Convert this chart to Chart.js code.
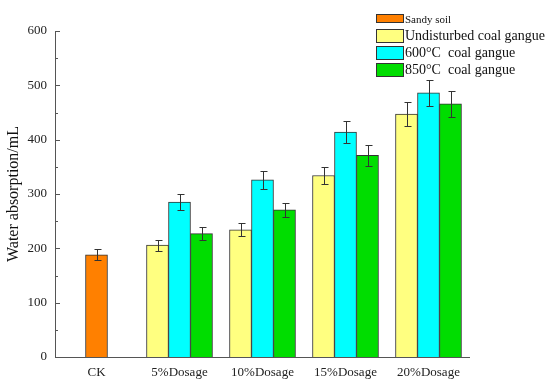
<!DOCTYPE html>
<html>
<head>
<meta charset="utf-8">
<script src="https://cdn.jsdelivr.net/npm/chart.js@4"></script>
<style>
  html, body { margin: 0; padding: 0; background: #fff; }
  #wrap { position: relative; width: 550px; height: 386px; }
  #legend { position: absolute; left: 376px; top: 10px; font-family: "Liberation Serif", serif; color: #111; }
  .row { display: flex; align-items: center; height: 17px; }
  .box { width: 26px; height: 12px; border: 1px solid #333; margin-right: 1px; }
  .row span { font-size: 14px; white-space: pre; }
  .row.small .box { height: 7px; }
  .row.small span { font-size: 11px; }
</style>
</head>
<body>
<div id="wrap">
  <canvas id="chart" width="550" height="386"></canvas>
  <div id="legend"></div>
</div>
<script>
// data
const categories = ['CK', '5%Dosage', '10%Dosage', '15%Dosage', '20%Dosage'];
const sandySoil = [188, null, null, null, null];
const sandySoilErr = [10, null, null, null, null];
const undisturbed = [null, 206, 234, 334, 447];
const undisturbedErr = [null, 10, 12, 16, 22];
const gangue600 = [null, 285, 326, 414, 486];
const gangue600Err = [null, 15, 17, 21, 24];
const gangue850 = [null, 227, 271, 371, 466];
const gangue850Err = [null, 12, 13, 19, 24];
const yTicks = [0, 100, 200, 300, 400, 500, 600];

const seriesNames = ['Sandy soil', 'Undisturbed coal gangue', '600°C  coal gangue', '850°C  coal gangue'];
const seriesColors = ['#FF8000', '#FFFF80', '#00FFFF', '#00DD00'];
const seriesData = [sandySoil, undisturbed, gangue600, gangue850];
const seriesErr = [sandySoilErr, undisturbedErr, gangue600Err, gangue850Err];

const serif = '"Liberation Serif", "Times New Roman", serif';

// error bars drawn on top of each bar
const errorBars = {
    id: 'errorBars',
    afterDatasetsDraw(chart) {
        const ctx = chart.ctx;
        const y = chart.scales.y;
        ctx.save();
        ctx.strokeStyle = '#333';
        ctx.lineWidth = 1;
        chart.data.datasets.forEach((ds, i) => {
            const meta = chart.getDatasetMeta(i);
            meta.data.forEach((bar, j) => {
                const v = ds.data[j], e = seriesErr[i][j];
                if (v == null || e == null) return;
                const x = Math.round(bar.x) + 0.5;
                const top = Math.round(y.getPixelForValue(v + e)) + 0.5;
                const bot = Math.round(y.getPixelForValue(v - e)) + 0.5;
                ctx.beginPath();
                ctx.moveTo(x, top); ctx.lineTo(x, bot);
                ctx.moveTo(x - 3, top); ctx.lineTo(x + 4, top);
                ctx.moveTo(x - 3, bot); ctx.lineTo(x + 4, bot);
                ctx.stroke();
            });
        });
        ctx.restore();
    }
};

// axis lines and inward ticks
const axisLines = {
    id: 'axisLines',
    afterDraw(chart) {
        const ctx = chart.ctx;
        const { left, right, top, bottom } = chart.chartArea;
        const y = chart.scales.y;
        ctx.save();
        ctx.strokeStyle = '#555';
        ctx.lineWidth = 1;
        ctx.beginPath();
        ctx.moveTo(left + 0.5, top);
        ctx.lineTo(left + 0.5, bottom + 0.5);
        ctx.lineTo(right, bottom + 0.5);
        yTicks.forEach((t, k) => {
            const py = Math.round(y.getPixelForValue(t)) + 0.5;
            ctx.moveTo(left, py); ctx.lineTo(left + 5, py);
            if (k < yTicks.length - 1) {
                const my = Math.round(y.getPixelForValue(t + 50)) + 0.5;
                ctx.moveTo(left, my); ctx.lineTo(left + 3, my);
            }
        });
        ctx.stroke();
        ctx.restore();
    }
};

const chart = new Chart(document.getElementById('chart'), {
    type: 'bar',
    data: {
        labels: categories,
        datasets: seriesNames.map((name, i) => ({
            label: name,
            data: seriesData[i],
            backgroundColor: seriesColors[i],
            borderColor: '#333',
            borderWidth: 1,
            barThickness: 22,
            skipNull: true
        }))
    },
    options: {
        responsive: false,
        animation: false,
        layout: { padding: { top: 31, right: 80, left: 0, bottom: 0 } },
        plugins: { legend: { display: false }, tooltip: { enabled: false } },
        scales: {
            x: {
                offset: true,
                grid: { display: false, drawTicks: false },
                border: { display: false },
                ticks: { color: '#222', font: { family: serif, size: 13 }, padding: 8 },
                afterFit(s) { s.height = 29; }
            },
            y: {
                min: 0,
                max: 600,
                grid: { display: false, drawTicks: false },
                border: { display: false },
                ticks: { stepSize: 100, color: '#222', font: { family: serif, size: 13 }, padding: 8 },
                title: {
                    display: true,
                    text: 'Water absorption/mL',
                    color: '#111',
                    font: { family: serif, size: 16 },
                    padding: { top: 4, bottom: 0 }
                },
                afterFit(s) { s.width = 55; }
            }
        }
    },
    plugins: [errorBars, axisLines]
});

document.getElementById('legend').innerHTML = chart.data.datasets.map((ds, i) =>
    `<div class="row${i === 0 ? ' small' : ''}"><div class="box" style="background:${ds.backgroundColor}"></div><span>${ds.label}</span></div>`
).join('');
</script>
</body>
</html>
